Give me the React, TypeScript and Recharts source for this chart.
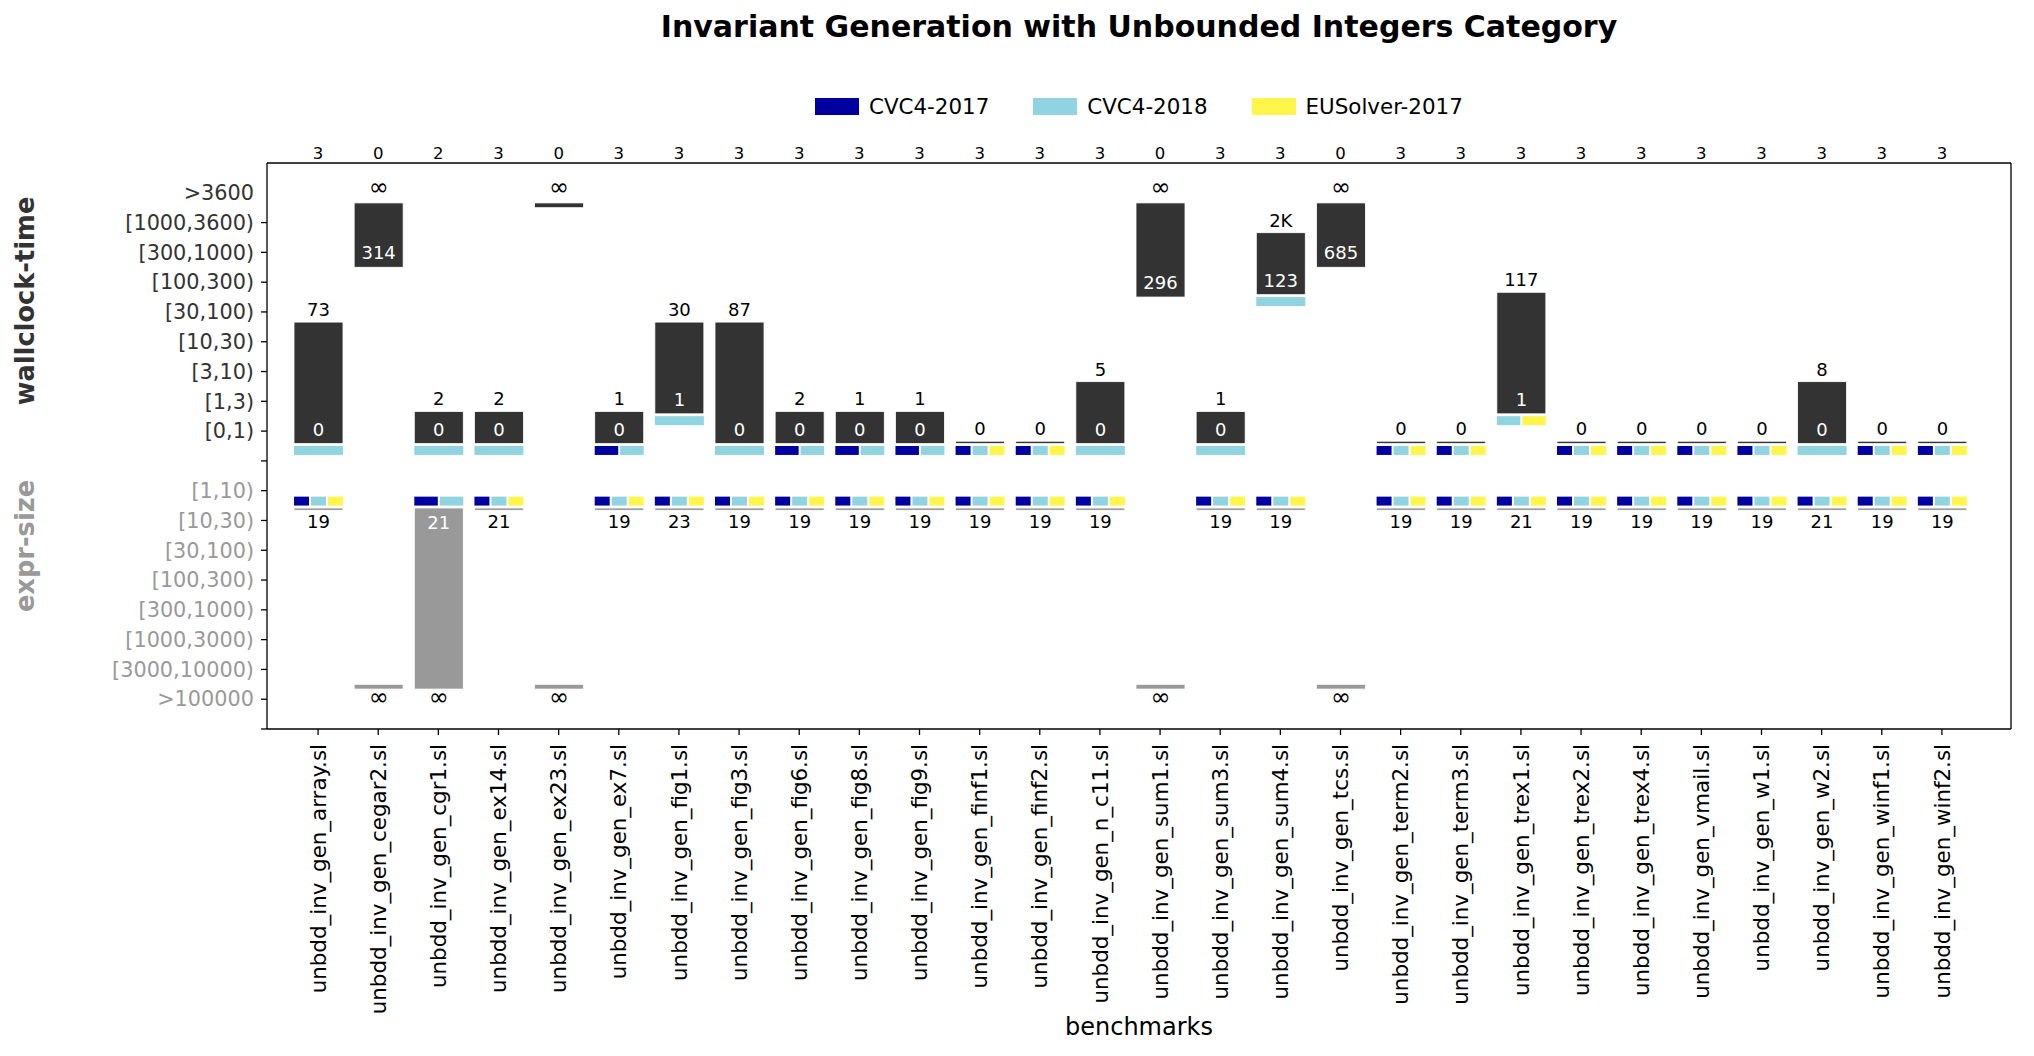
import { ComposedChart, Bar, XAxis, YAxis, Legend, Label } from 'recharts';

const INF = Infinity;

const benchmarks = [
  'unbdd_inv_gen_array.sl', 'unbdd_inv_gen_cegar2.sl', 'unbdd_inv_gen_cgr1.sl', 'unbdd_inv_gen_ex14.sl',
  'unbdd_inv_gen_ex23.sl', 'unbdd_inv_gen_ex7.sl', 'unbdd_inv_gen_fig1.sl', 'unbdd_inv_gen_fig3.sl',
  'unbdd_inv_gen_fig6.sl', 'unbdd_inv_gen_fig8.sl', 'unbdd_inv_gen_fig9.sl', 'unbdd_inv_gen_finf1.sl',
  'unbdd_inv_gen_finf2.sl', 'unbdd_inv_gen_n_c11.sl', 'unbdd_inv_gen_sum1.sl', 'unbdd_inv_gen_sum3.sl',
  'unbdd_inv_gen_sum4.sl', 'unbdd_inv_gen_tcs.sl', 'unbdd_inv_gen_term2.sl', 'unbdd_inv_gen_term3.sl',
  'unbdd_inv_gen_trex1.sl', 'unbdd_inv_gen_trex2.sl', 'unbdd_inv_gen_trex4.sl', 'unbdd_inv_gen_vmail.sl',
  'unbdd_inv_gen_w1.sl', 'unbdd_inv_gen_w2.sl', 'unbdd_inv_gen_winf1.sl', 'unbdd_inv_gen_winf2.sl',
];

// number of solvers that solved each benchmark
const solvedCounts = [3, 0, 2, 3, 0, 3, 3, 3, 3, 3, 3, 3, 3, 3, 0, 3, 3, 0, 3, 3, 3, 3, 3, 3, 3, 3, 3, 3];

// wallclock time in seconds (slowest / fastest)
const maxTimes = [73, INF, 2, 2, INF, 1, 30, 87, 2, 1, 1, 0, 0, 5, INF, 1, 2000, INF, 0, 0, 117, 0, 0, 0, 0, 8, 0, 0];
const minTimes = [0, 314, 0, 0, INF, 0, 1, 0, 0, 0, 0, 0, 0, 0, 296, 0, 123, 685, 0, 0, 1, 0, 0, 0, 0, 0, 0, 0];

// expression size (smallest / largest)
const minSizes = [19, INF, 21, 21, INF, 19, 23, 19, 19, 19, 19, 19, 19, 19, INF, 19, 19, INF, 19, 19, 21, 19, 19, 19, 19, 21, 19, 19];
const maxSizes = [19, INF, INF, 21, INF, 19, 23, 19, 19, 19, 19, 19, 19, 19, INF, 19, 19, INF, 19, 19, 21, 19, 19, 19, 19, 21, 19, 19];

// solver indices that reached the best time / smallest size
const ALL = [0, 1, 2];
const fastest = [
  [1], [], [1], [1], [], [0, 1], [1], [1], [0, 1], [0, 1], [0, 1], ALL, ALL, [1],
  [], [1], [1], [], ALL, ALL, [1, 2], ALL, ALL, ALL, ALL, [1], ALL, ALL,
];
const smallest = [
  ALL, [], [0, 1], ALL, [], ALL, ALL, ALL, ALL, ALL, ALL, ALL, ALL, ALL,
  [], ALL, ALL, [], ALL, ALL, ALL, ALL, ALL, ALL, ALL, ALL, ALL, ALL,
];

const solvers = ['CVC4-2017', 'CVC4-2018', 'EUSolver-2017'];
const solverColors = ['#0000a0', '#90d4e1', '#fff54b'];

const timeTickLabels = ['[0,1)', '[1,3)', '[3,10)', '[10,30)', '[30,100)', '[100,300)', '[300,1000)', '[1000,3600)', '>3600'];
const sizeTickLabels = ['[1,10)', '[10,30)', '[30,100)', '[100,300)', '[300,1000)', '[1000,3000)', '[3000,10000)', '>100000'];

const timeEdges = [1, 3, 10, 30, 100, 300, 1000, 3600];
const sizeEdges = [10, 30, 100, 300, 1000, 3000, 10000];

const binOf = (edges: number[], v: number) => 1 + edges.filter((e) => v >= e).length;
const fmt = (v: number) => (v === INF ? '∞' : v >= 1000 ? `${Math.round(v / 1000)}K` : String(v));

const FONT = 'DejaVu Sans';
const DARK = '#333333';
const GRAY = '#999999';
const VAL_SIZE = 18;
const INF_SIZE = 24;

// time bins go up from 0, size bins are mirrored below 0
const rows = benchmarks.map((name, i) => {
  const tMin = binOf(timeEdges, minTimes[i]);
  const tMax = binOf(timeEdges, maxTimes[i]);
  const sMin = binOf(sizeEdges, minSizes[i]);
  const sMax = binOf(sizeEdges, maxSizes[i]);
  const hasFast = fastest[i].length > 0;
  const hasSmall = smallest[i].length > 0;
  return {
    name,
    i,
    time: [tMin - (hasFast ? 0.42 : 0.5), tMax - 0.34],
    timeWin: hasFast ? [tMin - 0.8, tMin - 0.5] : null,
    size: [-(sMax - 0.34), -(sMin - (hasSmall ? 0.42 : 0.5))],
    sizeWin: hasSmall ? [-(sMin - 0.5), -(sMin - 0.8)] : null,
  };
});

const yTicks = Array.from({ length: 19 }, (_, k) => k - 9);

function TimeShape(props: any) {
  const { x, y, width, height, payload } = props;
  const i = payload.i;
  const cx = x + width / 2;
  const same = minTimes[i] === maxTimes[i];
  const top = maxTimes[i];
  return (
    <g>
      <rect x={x} y={y} width={width} height={height} fill={DARK} stroke="#fff" strokeWidth={0.8} />
      <text
        x={cx}
        y={y - (top === INF ? 8 : 6)}
        textAnchor="middle"
        fontSize={top === INF ? INF_SIZE : VAL_SIZE}
        fontFamily={FONT}
        fill="#000"
      >
        {fmt(top)}
      </text>
      {!same && (
        <text x={cx} y={y + height - 8} textAnchor="middle" fontSize={VAL_SIZE} fontFamily={FONT} fill="#fff">
          {fmt(minTimes[i])}
        </text>
      )}
    </g>
  );
}

function SizeShape(props: any) {
  const { x, y, width, height, payload } = props;
  const i = payload.i;
  const cx = x + width / 2;
  const same = minSizes[i] === maxSizes[i];
  const big = maxSizes[i];
  return (
    <g>
      <rect x={x} y={y} width={width} height={height} fill={GRAY} stroke="#fff" strokeWidth={0.8} />
      <text
        x={cx}
        y={y + height + (big === INF ? 16 : 17.5)}
        textAnchor="middle"
        fontSize={big === INF ? INF_SIZE : VAL_SIZE}
        fontFamily={FONT}
        fill="#000"
      >
        {fmt(big)}
      </text>
      {!same && (
        <text x={cx} y={y + 21.5} textAnchor="middle" fontSize={VAL_SIZE} fontFamily={FONT} fill="#fff">
          {fmt(minSizes[i])}
        </text>
      )}
    </g>
  );
}

const winnerShape = (list: number[][]) => (props: any) => {
  const { x, y, width, height, payload } = props;
  const ids = list[payload.i];
  if (!ids.length || !Number.isFinite(y) || !Number.isFinite(height)) return <g />;
  const gap = 2;
  const w = (width - gap * (ids.length - 1)) / ids.length;
  return (
    <g>
      {ids.map((s, k) => (
        <rect key={k} x={x + k * (w + gap)} y={y} width={w} height={height} fill={solverColors[s]} />
      ))}
    </g>
  );
};

function YTick(props: any) {
  const { x, y, payload } = props;
  const v = payload.value;
  const label = v > 0 ? timeTickLabels[v - 1] : v < 0 ? sizeTickLabels[-v - 1] ?? '' : '';
  return (
    <g>
      {v !== 9 && <line x1={x + 7} x2={x + 13} y1={y} y2={y} stroke="#000" strokeWidth={1.3} />}
      <text x={x} y={y} dy="0.35em" textAnchor="end" fontSize={20.8} fontFamily={FONT} fill={v > 0 ? DARK : GRAY}>
        {label}
      </text>
    </g>
  );
}

function BenchTick(props: any) {
  const { x, y, payload } = props;
  return (
    <text
      x={x}
      y={y}
      dy="0.36em"
      transform={`rotate(-90, ${x}, ${y})`}
      textAnchor="end"
      fontSize={21.4}
      fontFamily={FONT}
      fill="#000"
    >
      {payload.value}
    </text>
  );
}

function CountTick(props: any) {
  const { x, y, payload } = props;
  const idx = benchmarks.indexOf(payload.value);
  return (
    <text x={x} y={y} textAnchor="middle" fontSize={16.5} fontFamily={FONT} fill="#000">
      {solvedCounts[idx]}
    </text>
  );
}

function SolverLegend() {
  return (
    <div style={{ display: 'flex', alignItems: 'center', height: 24, fontFamily: FONT, fontSize: 21.4 }}>
      {solvers.map((s, k) => (
        <div key={s} style={{ display: 'flex', alignItems: 'center', marginRight: 44 }}>
          <div style={{ width: 44, height: 17, background: solverColors[k], marginRight: 10 }} />
          <span style={{ color: '#000', whiteSpace: 'nowrap' }}>{s}</span>
        </div>
      ))}
    </div>
  );
}

const pad = { left: 21, right: 39 };
const spine = { stroke: '#000', strokeWidth: 1.3 };

export default function App() {
  return (
    <div style={{ position: 'absolute', left: 0, top: 0, width: 2034, height: 1056, background: '#fff' }}>
      <ComposedChart
        width={2034}
        height={1056}
        data={rows}
        margin={{ top: 133, right: 22, bottom: 21, left: 7 }}
      >
        <XAxis
          xAxisId="main"
          dataKey="name"
          height={306}
          padding={pad}
          interval={0}
          axisLine={spine}
          tickLine={spine}
          tickSize={6}
          tickMargin={9}
          tick={<BenchTick />}
        >
          <Label
            content={() => (
              <text x={1139} y={1035} textAnchor="middle" fontSize={24} fontFamily={FONT} fill="#000">
                benchmarks
              </text>
            )}
          />
        </XAxis>
        <XAxis
          xAxisId="top"
          dataKey="name"
          orientation="top"
          height={30}
          padding={pad}
          interval={0}
          axisLine={spine}
          tickLine={false}
          tickSize={0}
          tickMargin={4}
          tick={<CountTick />}
        >
          <Label
            content={() => (
              <text x={1139} y={37} textAnchor="middle" fontSize={30} fontWeight="bold" fontFamily={FONT} fill="#000">
                Invariant Generation with Unbounded Integers Category
              </text>
            )}
          />
        </XAxis>
        <XAxis xAxisId="h1" dataKey="name" hide height={0} padding={pad} />
        <XAxis xAxisId="h2" dataKey="name" hide height={0} padding={pad} />
        <YAxis
          yAxisId="v"
          type="number"
          domain={[-9, 10]}
          ticks={yTicks}
          interval={0}
          allowDataOverflow
          width={260}
          axisLine={spine}
          tickLine={false}
          tickSize={6}
          tickMargin={7}
          tick={<YTick />}
        >
          <Label
            content={() => (
              <g fontFamily={FONT} fontWeight="bold" fontSize={25.7}>
                <text transform="translate(34, 301) rotate(-90)" textAnchor="middle" fill={DARK}>
                  wallclock-time
                </text>
                <text transform="translate(34, 546) rotate(-90)" textAnchor="middle" fill={GRAY}>
                  expr-size
                </text>
              </g>
            )}
          />
        </YAxis>
        <YAxis
          yAxisId="r"
          orientation="right"
          type="number"
          domain={[-9, 10]}
          width={1}
          tick={false}
          tickLine={false}
          axisLine={spine}
        />
        <Legend
          verticalAlign="middle"
          align="center"
          layout="horizontal"
          wrapperStyle={{ top: 94, left: 815, width: 900, height: 24 }}
          content={() => <SolverLegend />}
        />

        {/* wallclock range bars, fastest solvers underneath */}
        <Bar xAxisId="main" yAxisId="v" dataKey="time" barSize={49} shape={TimeShape} isAnimationActive={false} />
        <Bar xAxisId="top" yAxisId="v" dataKey="timeWin" barSize={49} shape={winnerShape(fastest)} isAnimationActive={false} />

        {/* expression size range bars, smallest-result solvers above */}
        <Bar xAxisId="h1" yAxisId="v" dataKey="size" barSize={49} shape={SizeShape} isAnimationActive={false} />
        <Bar xAxisId="h2" yAxisId="v" dataKey="sizeWin" barSize={49} shape={winnerShape(smallest)} isAnimationActive={false} />
      </ComposedChart>
    </div>
  );
}
